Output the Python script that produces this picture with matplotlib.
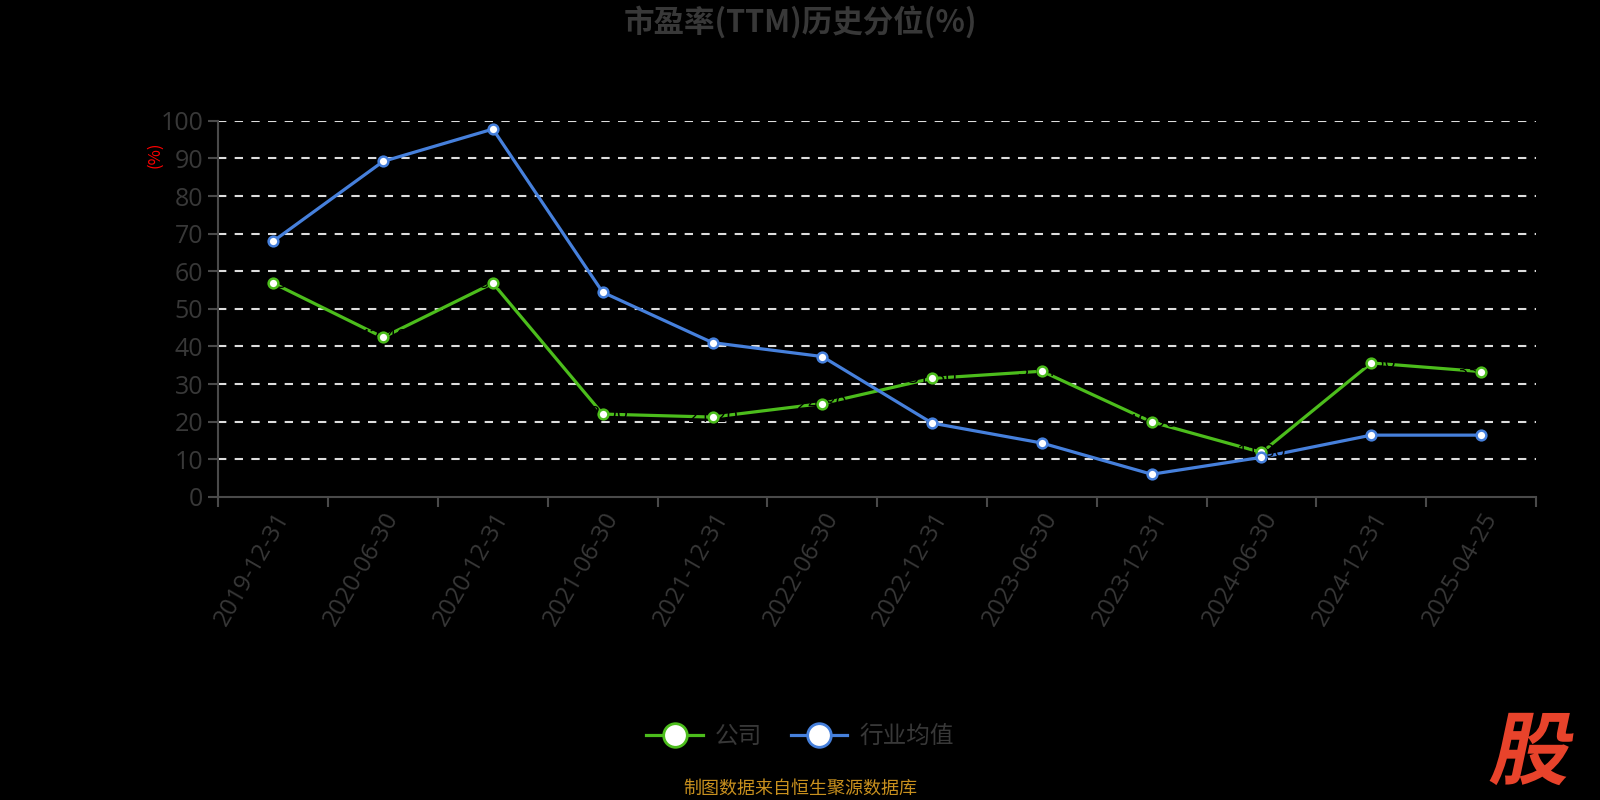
import matplotlib
matplotlib.use("Agg")
import matplotlib.pyplot as plt
from matplotlib.textpath import TextPath
from matplotlib.patches import PathPatch
from matplotlib.font_manager import FontProperties
from matplotlib.transforms import Affine2D

plt.rcParams['font.family'] = ['Noto Sans CJK SC', 'DejaVu Sans']

dates = ['2019-12-31', '2020-06-30', '2020-12-31', '2021-06-30', '2021-12-31', '2022-06-30',
         '2022-12-31', '2023-06-30', '2023-12-31', '2024-06-30', '2024-12-31', '2025-04-25']
company = [56.8, 42.4, 56.8, 22.0, 21.2, 24.8, 31.5, 33.4, 19.9, 11.8, 35.6, 33.3]
industry = [68.0, 89.2, 97.8, 54.4, 41.0, 37.3, 19.6, 14.3, 6.0, 10.5, 16.4, 16.4]
yticks = [0, 10, 20, 30, 40, 50, 60, 70, 80, 90, 100]

green = '#4cbd1c'
blue = '#4680dc'
axis_c = '#4a4a4a'
text_c = '#383838'
tick_font = ['Open Sans', 'DejaVu Sans']

fig = plt.figure(figsize=(16, 8), dpi=100, facecolor='black')
ax = fig.add_axes([0.1365, 0.379, 0.8235, 0.47])
ax.set_facecolor('black')

x = list(range(len(dates)))
# lines below, labels in between, markers on top
ax.plot(x, company, color=green, lw=2.3, zorder=2)
ax.plot(x, industry, color=blue, lw=2.3, zorder=2)
ax.plot(x, company, ls='none', marker='o', ms=7, mfc='white', mec=green, mew=1.8, zorder=4)
ax.plot(x, industry, ls='none', marker='o', ms=7, mfc='white', mec=blue, mew=1.8, zorder=4)

# data labels are drawn in black (nearly invisible on the dark background)
for xi, v in zip(x, company):
    ax.text(xi, v, f'{v:.2f}', color='black', fontsize=14, ha='center', va='center',
            family=tick_font, zorder=3)

ax.set_xlim(-0.5, len(dates) - 0.5)
ax.set_ylim(0, 100)
ax.set_yticks(yticks)
ax.set_yticklabels([str(t) for t in yticks], color=text_c, fontsize=18, family=tick_font)
ax.set_xticks([i - 0.5 for i in range(len(dates) + 1)])
ax.set_xticklabels([])
ax.set_xticks(x, minor=True)
ax.set_xticklabels(dates, minor=True, rotation=60, ha='right', va='top',
                   rotation_mode='anchor', color=text_c, fontsize=17.5, family=tick_font)
ax.tick_params(axis='x', which='minor', length=0, pad=8)
ax.tick_params(axis='x', which='major', length=7, width=1.5, color=axis_c)
ax.tick_params(axis='y', length=7, width=1.5, color=axis_c, pad=4)

for t in yticks[1:]:
    ax.axhline(t, color='#dddddd', lw=1.5, ls=(0, (4, 4)), zorder=1)

for s in ['top', 'right']:
    ax.spines[s].set_visible(False)
for s in ['left', 'bottom']:
    ax.spines[s].set_color(axis_c)
    ax.spines[s].set_linewidth(1.5)

fig.text(0.097, 0.806, '(%)', color='red', rotation=90, fontsize=12, ha='center', va='center')

fig.text(0.5, 0.972, '市盈率(TTM)历史分位(%)', color=text_c, fontsize=22,
         fontweight='bold', ha='center', va='center')

h1, = ax.plot([], [], color=green, lw=2.3, marker='o', ms=17, mfc='white', mec=green, mew=2)
h2, = ax.plot([], [], color=blue, lw=2.3, marker='o', ms=17, mfc='white', mec=blue, mew=2)
leg = fig.legend([h1, h2], ['公司', '行业均值'], loc='center', bbox_to_anchor=(0.5, 0.079),
                 ncol=2, frameon=False, fontsize=17, handlelength=2.4, columnspacing=1.2,
                 handletextpad=0.5)
for t in leg.get_texts():
    t.set_color(text_c)

fig.text(0.5, 0.014, '制图数据来自恒生聚源数据库', color='#c8901e', fontsize=13,
         ha='center', va='center')

# watermark character, slanted
fp = FontProperties(family='Noto Sans CJK SC', weight='heavy')
tp = TextPath((0, 0), '股', size=80, prop=fp)
tr = Affine2D().skew_deg(12, 0).translate(1488, 22)
fig.patches.append(PathPatch(tr.transform_path(tp), transform=None,
                             facecolor='#e8432b', edgecolor='none'))

fig.savefig('out.png', dpi=100, facecolor='black')
